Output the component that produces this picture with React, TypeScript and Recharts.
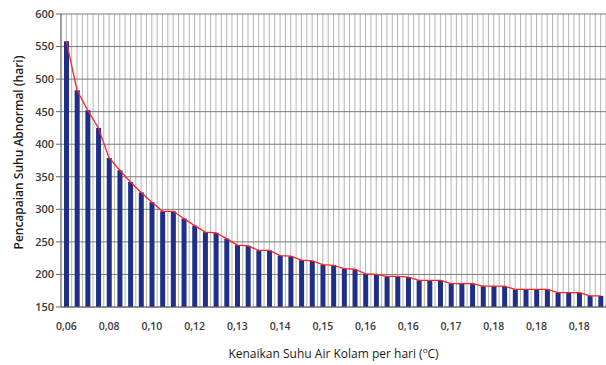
import React from 'react'
import { ComposedChart, Bar, Line, XAxis, YAxis, CartesianGrid, Label } from 'recharts'

// kenaikan suhu per hari (label kategori)
const categories = [
  '0,06', '0,07', '0,07', '0,08', '0,08', '0,09', '0,09', '0,10', '0,10', '0,11',
  '0,11', '0,11', '0,12', '0,12', '0,12', '0,13', '0,13', '0,13', '0,14', '0,14',
  '0,14', '0,14', '0,15', '0,15', '0,15', '0,15', '0,15', '0,16', '0,16', '0,16',
  '0,16', '0,16', '0,16', '0,17', '0,17', '0,17', '0,17', '0,17', '0,17', '0,17',
  '0,18', '0,18', '0,18', '0,18', '0,18', '0,18', '0,18', '0,18', '0,18', '0,18',
  '0,18',
]

// pencapaian suhu abnormal (hari)
const days = [
  558, 483, 452, 425, 379, 360, 342, 326, 311, 297,
  297, 286, 275, 265, 264, 255, 245, 244, 237, 237,
  229, 228, 222, 221, 215, 214, 209, 208, 201, 200,
  197, 197, 196, 191, 191, 191, 186, 186, 186, 182,
  182, 182, 177, 177, 177, 177, 172, 172, 172, 167,
  167,
]

const yTicks = [150, 200, 250, 300, 350, 400, 450, 500, 550, 600]

const data = categories.map((x, i) => ({ x, hari: days[i] }))

const FONT = '"Open Sans", sans-serif'

const halfBandLines = ({ offset }: any) => {
  const n = categories.length * 2
  const step = offset.width / n
  const out: number[] = []
  for (let k = 0; k <= n; k++) out.push(offset.left + k * step)
  return out
}

const YTitle = ({ viewBox }: any) => {
  const cy = viewBox.y + viewBox.height / 2 - 8
  return (
    <text
      x={18}
      y={cy}
      transform={`rotate(-90, 18, ${cy})`}
      textAnchor="middle"
      dominantBaseline="central"
      fontFamily={FONT}
      fontSize={12}
      fontWeight={600}
      fill="#1a1a1a"
    >
      Pencapaian Suhu Abnormal (hari)
    </text>
  )
}

const XTitle = ({ viewBox }: any) => {
  const cx = viewBox.x + viewBox.width / 2
  return (
    <text x={cx} y={358} textAnchor="middle" fontFamily={FONT} fontSize={12} fill="#1a1a1a">
      <tspan>Kenaikan Suhu Air Kolam per hari (</tspan>
      <tspan fontSize={8} dy={-5}>o</tspan>
      <tspan dy={5}>C)</tspan>
    </text>
  )
}

const App = () => {
  return (
    <div style={{ position: 'absolute', left: 0, top: 0 }}>
      <ComposedChart
        width={606}
        height={365}
        data={data}
        margin={{ top: 14, right: 0, bottom: 0, left: 0 }}
        barCategoryGap={0}
      >
        <CartesianGrid
          horizontal={false}
          stroke="#b4b4b4"
          strokeWidth={1}
          verticalCoordinatesGenerator={halfBandLines}
        />
        <CartesianGrid vertical={false} stroke="#7a7a7a" strokeWidth={1} />
        <XAxis
          dataKey="x"
          interval={3}
          height={58}
          tickLine={false}
          axisLine={{ stroke: '#666' }}
          tick={{ fontFamily: FONT, fontSize: 10.5, fontWeight: 600, fill: '#3a3a3a' }}
          tickMargin={10}
        >
          <Label content={<XTitle />} />
        </XAxis>
        <YAxis
          domain={[150, 600]}
          ticks={yTicks}
          width={61}
          tickSize={5}
          tickLine={{ stroke: '#666' }}
          axisLine={{ stroke: '#666' }}
          tick={{ fontFamily: FONT, fontSize: 11, fontWeight: 600, fill: '#3a3a3a' }}
          interval={0}
        >
          <Label content={<YTitle />} />
        </YAxis>
        <Bar dataKey="hari" fill="#1f2f86" barSize={5} isAnimationActive={false} />
        <Line
          dataKey="hari"
          type="linear"
          stroke="#ff2222"
          strokeWidth={1.3}
          dot={false}
          activeDot={false}
          isAnimationActive={false}
        />
      </ComposedChart>
    </div>
  )
}

export default App
